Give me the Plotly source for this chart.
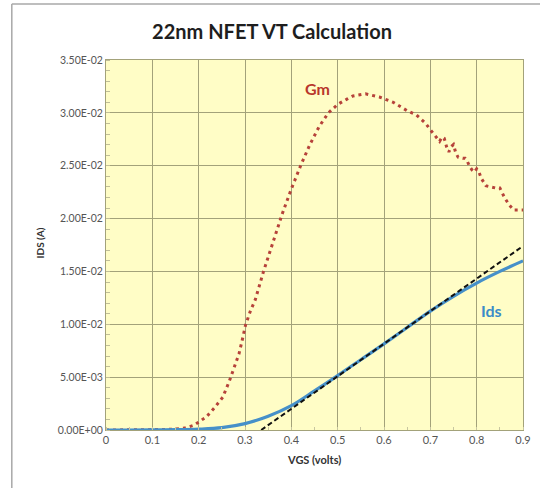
import plotly.graph_objects as go

# Gate voltage grid for the drain current curve (V)
vgs = [0.0, 0.05, 0.10, 0.15, 0.20, 0.25, 0.30, 0.35, 0.40, 0.45, 0.50,
       0.55, 0.60, 0.65, 0.70, 0.75, 0.80, 0.85, 0.90]
# Drain current Ids (A)
ids = [0.0, 0.0, 0.00001, 0.00003, 0.00008, 0.00022, 0.00060, 0.00130, 0.00230,
       0.00370, 0.00515, 0.00665, 0.00815, 0.00970, 0.01125, 0.01265, 0.01390,
       0.01500, 0.01600]

# Transconductance Gm (S), sampled more finely where the data is noisy
gm_v = [0.0, 0.05, 0.10, 0.13, 0.15, 0.17, 0.19, 0.20, 0.217, 0.234, 0.252,
        0.266, 0.276, 0.287, 0.294, 0.301, 0.312, 0.322, 0.34, 0.36, 0.38,
        0.40, 0.42, 0.44, 0.46, 0.48, 0.50, 0.52, 0.533, 0.56, 0.59, 0.62,
        0.65, 0.67, 0.69, 0.70, 0.71, 0.72, 0.725, 0.73, 0.735, 0.74, 0.745,
        0.75, 0.755, 0.76, 0.77, 0.775, 0.78, 0.785, 0.79, 0.795, 0.80, 0.805,
        0.81, 0.82, 0.83, 0.84, 0.85, 0.86, 0.87, 0.88, 0.89, 0.90]
gm = [0.0, 0.0, 0.00002, 0.00005, 0.0001, 0.00018, 0.00045, 0.00075, 0.00126,
      0.0021, 0.0031, 0.0046, 0.0058, 0.0072, 0.0085, 0.0099, 0.0113, 0.0123,
      0.0150, 0.0178, 0.0204, 0.0228, 0.0250, 0.0270, 0.0287, 0.0300, 0.0308,
      0.0313, 0.0316, 0.0318, 0.0315, 0.0310, 0.0302, 0.0298, 0.0290, 0.0284,
      0.0278, 0.0273, 0.0277, 0.0276, 0.0268, 0.0263, 0.0268, 0.0270, 0.0262,
      0.0258, 0.0257, 0.0257, 0.0254, 0.0249, 0.0246, 0.0244, 0.0247, 0.0244,
      0.0238, 0.0231, 0.0230, 0.0229, 0.0229, 0.0220, 0.0213, 0.0208, 0.0208,
      0.0208]

# Tangent at the point of maximum Gm (linear extrapolation for VT)
tan_v = [0.335, 0.90]
tan_i = [0.0, 0.0174]

y_ticks = [0.0, 0.005, 0.010, 0.015, 0.020, 0.025, 0.030, 0.035]
y_tick_text = ["0.00E+00", "5.00E-03", "1.00E-02", "1.50E-02",
               "2.00E-02", "2.50E-02", "3.00E-02", "3.50E-02"]
x_ticks = [0.0, 0.1, 0.2, 0.3, 0.4, 0.5, 0.6, 0.7, 0.8, 0.9]
x_tick_text = ["0", "0.1", "0.2", "0.3", "0.4", "0.5", "0.6", "0.7", "0.8", "0.9"]

FONT = "Lato, 'Open Sans', sans-serif"
GRID = "#A3A27A"
RED = "#B6423A"
BLUE = "#4690C9"

fig = go.Figure()
fig.add_trace(go.Scatter(x=gm_v, y=gm, mode="lines",
                         line=dict(color=RED, width=3, dash="3px,4px"),
                         hoverinfo="skip"))
fig.add_trace(go.Scatter(x=vgs, y=ids, mode="lines", line_shape="spline",
                         line=dict(color=BLUE, width=3.2), hoverinfo="skip"))
fig.add_trace(go.Scatter(x=tan_v, y=tan_i, mode="lines",
                         line=dict(color="#111111", width=2, dash="5px,3px"),
                         hoverinfo="skip"))

# plot area spans x 106..531 px and y 60..430 px
L, R, T, B = 106, 531, 60, 430
W, H = 540, 488
def px_x(p):
    return (p - L) / (R - L)
def px_y(p):
    return (B - p) / (B - T)

fig.update_layout(
    width=W, height=H,
    margin=dict(l=L, r=W - R, t=T, b=H - B),
    paper_bgcolor="white",
    plot_bgcolor="#FFFDC6",
    showlegend=False,
    font=dict(family=FONT, color="#4a4a4a", size=10),
    title=dict(text="<b>22nm NFET VT Calculation</b>",
               x=272 / W, xanchor="center", xref="container",
               y=1 - 32 / H, yanchor="middle", yref="container",
               font=dict(family=FONT, size=20, color="#1e1e1e")),
    xaxis=dict(range=[0, 0.9], tickvals=x_ticks, ticktext=x_tick_text,
               showgrid=True, gridcolor=GRID, gridwidth=1,
               showline=True, linecolor=GRID, linewidth=1, mirror=True,
               zeroline=False, ticks="",
               minor=dict(dtick=0.05, ticks="inside", ticklen=3,
                          tickcolor="#C8C6A0", showgrid=False),
               tickfont=dict(size=11, color="#555555")),
    yaxis=dict(range=[0, 0.035], tickvals=y_ticks, ticktext=y_tick_text,
               showgrid=True, gridcolor=GRID, gridwidth=1,
               showline=True, linecolor=GRID, linewidth=1, mirror=True,
               zeroline=False, ticks="",
               minor=dict(dtick=0.001, ticks="inside", ticklen=4,
                          tickcolor="#C0BE98", showgrid=False),
               tickfont=dict(size=10.5, color="#555555")),
    annotations=[
        dict(text="<b>Gm</b>", x=0.456, y=0.0323, xref="x", yref="y",
             showarrow=False, font=dict(family=FONT, size=16, color="#B8372C")),
        dict(text="<b>Ids</b>", x=0.832, y=0.0113, xref="x", yref="y",
             showarrow=False, font=dict(family=FONT, size=16, color="#3A8CC8")),
        dict(text="<b>IDS (A)</b>", x=px_x(31), y=px_y(243), xref="paper",
             yref="paper", textangle=-90, showarrow=False,
             font=dict(family=FONT, size=10, color="#333333")),
        dict(text="<b>VGS (volts)</b>", x=px_x(318), y=px_y(468), xref="paper",
             yref="paper", showarrow=False,
             font=dict(family=FONT, size=11, color="#333333")),
    ],
    shapes=[
        dict(type="line", xref="paper", yref="paper",
             x0=px_x(10), x1=px_x(560), y0=px_y(4), y1=px_y(4),
             line=dict(color="#A8A8A8", width=1.5)),
        dict(type="line", xref="paper", yref="paper",
             x0=px_x(10), x1=px_x(10), y0=px_y(4), y1=px_y(500),
             line=dict(color="#A8A8A8", width=1.5)),
    ],
)

fig.write_html("out.html")
